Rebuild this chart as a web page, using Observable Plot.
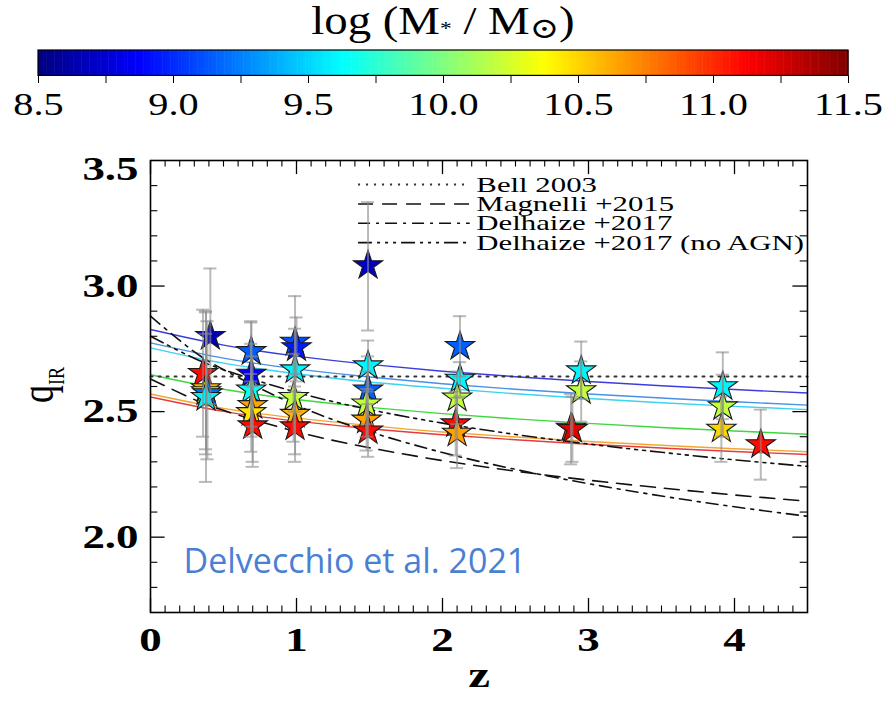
<!DOCTYPE html>
<html>
<head>
<meta charset="utf-8">
<script src="https://cdn.jsdelivr.net/npm/d3@7"></script>
<script src="https://cdn.jsdelivr.net/npm/@observablehq/plot@0.6"></script>
<style>
  body { margin: 0; background: #fff; }
  #fig { position: relative; width: 892px; height: 701px; overflow: hidden; background: #fff; }
  #title { position: absolute; left: 443px; top: 25px; transform: translate(-50%, -50%) scaleX(1.2); font-family: "Liberation Serif"; font-size: 39px; line-height: 48px; color: #000; white-space: nowrap; }
  #title sub { font-size: 0.5em; vertical-align: -0.1em; }
  #title sub.sun { font-size: 0.75em; vertical-align: -0.15em; font-family: "DejaVu Serif"; }
  #cbar { position: absolute; left: 0; top: 46px; }
  #main { position: absolute; left: 0; top: 130px; }
  #ylab { position: absolute; left: 40px; top: 385px; transform: translate(-50%, -50%) rotate(-90deg) scale(1, 1.3); font-family: "Liberation Serif"; font-size: 36px; white-space: nowrap; }
  #ylab sub { font-size: 0.5em; }
</style>
</head>
<body>
<div id="fig">
  <div id="title">log (M<sub>*</sub> / M<sub class="sun">⊙</sub>)</div>
  <div id="cbar"></div>
  <div id="main"></div>
  <div id="ylab">q<sub>IR</sub></div>
</div>
<script>
// ---------- colour bar ----------
const massDomain = [8.5, 8.875, 9.625, 10.375, 11.125, 11.5];
const massColors = ["#00007f", "#0000ff", "#00ffff", "#ffff00", "#ff0000", "#7f0000"];
const cbTicks = [8.5, 8.75, 9.0, 9.25, 9.5, 9.75, 10.0, 10.25, 10.5, 10.75, 11.0, 11.25, 11.5];
const cbLabels = [8.5, 9.0, 9.5, 10.0, 10.5, 11.0, 11.5];

// ---------- axes ----------
const xMajor = [0, 1, 2, 3, 4];
const xMinor = [0.1,0.2,0.3,0.4,0.5,0.6,0.7,0.8,0.9,1.1,1.2,1.3,1.4,1.5,1.6,1.7,1.8,1.9,2.1,2.2,2.3,2.4,2.5,2.6,2.7,2.8,2.9,3.1,3.2,3.3,3.4,3.5,3.6,3.7,3.8,3.9,4.1,4.2,4.3,4.4];
const yMajor = [2.0, 2.5, 3.0];
const yMinor = [1.8,1.9,2.1,2.2,2.3,2.4,2.6,2.7,2.8,2.9,3.1,3.2,3.3,3.4];
const yLabels = [2.0, 2.5, 3.0];
const yTopLabel = [3.5];

// ---------- model curves (Delvecchio+2021 mass-dependent) ----------
const zGrid = [0, 0.5, 1, 1.5, 2, 2.5, 3, 3.5, 4, 4.5];
const curveBlue      = [2.827, 2.765, 2.721, 2.688, 2.661, 2.639, 2.620, 2.603, 2.588, 2.574];
const curveLightBlue = [2.774, 2.713, 2.670, 2.638, 2.611, 2.589, 2.570, 2.554, 2.539, 2.526];
const curveCyan      = [2.754, 2.693, 2.651, 2.618, 2.593, 2.571, 2.552, 2.535, 2.521, 2.508];
const curveGreen     = [2.647, 2.589, 2.548, 2.517, 2.492, 2.471, 2.453, 2.437, 2.423, 2.410];
const curveOrange    = [2.570, 2.513, 2.474, 2.444, 2.419, 2.399, 2.381, 2.366, 2.352, 2.340];
const curveRed       = [2.558, 2.501, 2.462, 2.432, 2.408, 2.388, 2.370, 2.355, 2.341, 2.329];
const curveColors = ["#3c3cdc", "#4a90e4", "#3cd2f0", "#3cd83c", "#f2a634", "#e23c3c"];

// ---------- literature relations ----------
const zRef = [0, 0.25, 0.5, 1, 1.5, 2, 2.5, 3, 3.5, 4, 4.5];
const bell2003      = [2.64, 2.64, 2.64, 2.64, 2.64, 2.64, 2.64, 2.64, 2.64, 2.64, 2.64];
const magnelli2015  = [2.630, 2.561, 2.505, 2.420, 2.356, 2.305, 2.263, 2.227, 2.196, 2.168, 2.143];
const delhaize2017  = [2.880, 2.760, 2.667, 2.525, 2.420, 2.337, 2.270, 2.213, 2.164, 2.121, 2.083];
const delhaizeNoAGN = [2.800, 2.726, 2.667, 2.577, 2.508, 2.454, 2.409, 2.371, 2.338, 2.308, 2.282];
const refNames = ["Bell 2003", "Magnelli +2015", "Delhaize +2017", "Delhaize +2017 (no AGN)"];
const refDash = ["2,6", "15,9", "12,6,3,6", "14,5,3,5,3,5,3,5"];

// ---------- measurements ----------
const ptZ    = [0.41, 0.36, 0.38, 0.38, 0.39, 0.38,
                0.69, 0.69, 0.69, 0.70, 0.69, 0.70,
                0.99, 1.00, 0.99, 0.98, 0.99, 0.99,
                1.49, 1.49, 1.49, 1.48, 1.48, 1.49,
                2.12, 2.12, 2.10, 2.09, 2.10,
                2.95, 2.95, 2.88, 2.89,
                3.92, 3.92, 3.91,
                4.18];
const ptQ    = [2.800, 2.653, 2.592, 2.580, 2.572, 2.557,
                2.740, 2.650, 2.587, 2.525, 2.497, 2.444,
                2.777, 2.755, 2.667, 2.557, 2.490, 2.440,
                3.082, 2.683, 2.587, 2.531, 2.467, 2.424,
                2.760, 2.630, 2.555, 2.452, 2.415,
                2.663, 2.584, 2.435, 2.430,
                2.600, 2.520, 2.431,
                2.369];
const ptLo   = [2.53, 2.40, 2.33, 2.35, 2.31, 2.22,
                2.62, 2.44, 2.40, 2.30, 2.34, 2.28,
                2.60, 2.62, 2.50, 2.38, 2.33, 2.30,
                2.823, 2.58, 2.45, 2.40, 2.345, 2.32,
                2.64, 2.56, 2.45, 2.325, 2.275,
                2.55, 2.46, 2.29, 2.30,
                2.47, 2.40, 2.30,
                2.229];
const ptHi   = [3.07, 2.906, 2.895, 2.81, 2.86, 2.90,
                2.86, 2.855, 2.77, 2.72, 2.65, 2.60,
                2.96, 2.875, 2.83, 2.73, 2.65, 2.58,
                3.334, 2.783, 2.72, 2.66, 2.59, 2.53,
                2.88, 2.697, 2.66, 2.58, 2.555,
                2.779, 2.70, 2.57, 2.56,
                2.736, 2.647, 2.56,
                2.508];
const ptMass = [8.65, 11.1, 10.6, 10.35, 9.2, 9.6,
                9.15, 8.85, 9.65, 10.65, 10.45, 11.1,
                9.1, 8.95, 9.6, 10.2, 10.6, 11.1,
                8.7, 9.6, 9.15, 10.2, 10.65, 11.1,
                9.15, 9.6, 10.2, 11.1, 10.65,
                9.6, 10.2, 10.9, 11.2,
                9.6, 10.2, 10.5,
                11.1];

// the reference uses horizontally stretched Times glyphs: widen chosen text elements in place
function stretchTexts(svg, keep, sx) {
  svg.querySelectorAll("text").forEach(t => {
    if (!keep(t.textContent)) return;
    const tr = t.getAttribute("transform");
    if (tr) {
      t.setAttribute("transform", tr + ` scale(${sx},1)`);
    } else {
      const x = +t.getAttribute("x") || 0, y = +t.getAttribute("y") || 0;
      t.setAttribute("transform", `translate(${x},${y}) scale(${sx},1) translate(${-x},${-y})`);
    }
  });
}

try {
  const colorScale = {type: "linear", domain: massDomain, range: massColors, interpolate: "rgb"};

  // ---- colour bar ----
  const cbSteps = d3.range(300).map(i => 8.5 + i * 0.01);
  const cb = Plot.plot({
    width: 892, height: 84,
    marginLeft: 38, marginRight: 44, marginTop: 4, marginBottom: 0,
    x: {domain: [8.5, 11.5], axis: null},
    y: {domain: [-2.15, 1], axis: null},
    color: colorScale,
    style: {background: "transparent", overflow: "visible"},
    marks: [
      Plot.rect(cbSteps, {x1: d => d, x2: d => d + 0.012, y1: 0, y2: 1, fill: d => d + 0.005}),
      Plot.rect([0], {x1: 8.5, x2: 11.5, y1: 0, y2: 1, fill: "none", stroke: "#000", strokeWidth: 1.2}),
      Plot.ruleX(cbTicks, {x: d => d, y1: -0.3, y2: 0, stroke: "#000", strokeWidth: 1}),
      Plot.text(cbLabels, {x: d => d, y: -1.15, text: d => d.toFixed(1), fontSize: 31,
        fontFamily: "Liberation Serif", fill: "#000"})
    ]
  });
  stretchTexts(cb, () => true, 1.3);
  document.getElementById("cbar").appendChild(cb);

  // ---- main panel ----
  const marks = [];
  const massCurves = [curveBlue, curveLightBlue, curveCyan, curveGreen, curveOrange, curveRed];
  massCurves.forEach((vals, k) => {
    marks.push(Plot.line(zGrid.map((z, i) => ({z, q: vals[i]})),
      {x: "z", y: "q", stroke: curveColors[k], strokeWidth: 1.4, curve: "natural"}));
  });
  const refCurves = [bell2003, magnelli2015, delhaize2017, delhaizeNoAGN];
  refCurves.forEach((vals, k) => {
    marks.push(Plot.line(zRef.map((z, i) => ({z, q: vals[i]})),
      {x: "z", y: "q", stroke: k === 0 ? "#333" : "#111", strokeWidth: k === 0 ? 2 : 1.6,
       strokeDasharray: refDash[k], curve: "natural"}));
    // legend sample + label
    const ly = 3.404 - k * 0.077;
    marks.push(Plot.ruleY([ly], {y: d => d, x1: 1.425, x2: 2.19, stroke: k === 0 ? "#333" : "#111",
      strokeWidth: k === 0 ? 2 : 1.6, strokeDasharray: refDash[k]}));
    marks.push(Plot.text([refNames[k]], {x: 2.232, y: ly, text: d => d, textAnchor: "start",
      fontSize: 22, fontFamily: "Liberation Serif", fill: "#000"}));
  });

  // frame & ticks
  marks.push(Plot.frame({stroke: "#000", strokeWidth: 1.6}));
  marks.push(Plot.ruleY(yMajor, {y: d => d, x1: 0, x2: 0.1, stroke: "#000", strokeWidth: 1.3}));
  marks.push(Plot.ruleY(yMinor, {y: d => d, x1: 0, x2: 0.05, stroke: "#000", strokeWidth: 1.1}));
  marks.push(Plot.ruleY(yMajor, {y: d => d, x1: 4.4, x2: 4.5, stroke: "#000", strokeWidth: 1.3}));
  marks.push(Plot.ruleY(yMinor, {y: d => d, x1: 4.45, x2: 4.5, stroke: "#000", strokeWidth: 1.1}));
  marks.push(Plot.ruleX(xMajor, {x: d => d, y1: 1.7, y2: 1.756, stroke: "#000", strokeWidth: 1.3}));
  marks.push(Plot.ruleX(xMinor, {x: d => d, y1: 1.7, y2: 1.726, stroke: "#000", strokeWidth: 1.1}));
  marks.push(Plot.ruleX(xMajor, {x: d => d, y1: 3.444, y2: 3.5, stroke: "#000", strokeWidth: 1.3}));
  marks.push(Plot.ruleX(xMinor, {x: d => d, y1: 3.474, y2: 3.5, stroke: "#000", strokeWidth: 1.1}));

  // tick labels
  marks.push(Plot.text(yLabels, {y: d => d, frameAnchor: "left", dx: -12, textAnchor: "end",
    text: d => d.toFixed(1), fontSize: 33, fontWeight: "bold", fontFamily: "Liberation Serif", fill: "#000"}));
  marks.push(Plot.text(yTopLabel, {y: d => d, frameAnchor: "left", dx: -12, dy: 9, textAnchor: "end",
    text: d => d.toFixed(1), fontSize: 33, fontWeight: "bold", fontFamily: "Liberation Serif", fill: "#000"}));
  marks.push(Plot.text(xMajor, {x: d => d, frameAnchor: "bottom", dy: 38,
    text: d => String(d), fontSize: 33, fontWeight: "bold", fontFamily: "Liberation Serif", fill: "#000"}));
  marks.push(Plot.text(["z"], {frameAnchor: "bottom", dy: 74, text: d => d,
    fontSize: 36, fontWeight: "bold", fontFamily: "Liberation Serif", fill: "#000"}));

  // measurements
  const pts = ptZ.map((z, i) => ({z, q: ptQ[i], lo: ptLo[i], hi: ptHi[i], m: ptMass[i]}));
  marks.push(Plot.dot(pts, {x: "z", y: "q", symbol: "star", r: 9.2, fill: "m",
    stroke: "#1a1a1a", strokeWidth: 1.1}));
  marks.push(Plot.ruleX(pts, {x: "z", y1: "lo", y2: "hi", stroke: "#8c8c8c", strokeWidth: 2, strokeOpacity: 0.6}));
  marks.push(Plot.ruleY(pts, {y: "lo", x1: d => d.z - 0.045, x2: d => d.z + 0.045, stroke: "#8c8c8c", strokeWidth: 2, strokeOpacity: 0.6}));
  marks.push(Plot.ruleY(pts, {y: "hi", x1: d => d.z - 0.045, x2: d => d.z + 0.045, stroke: "#8c8c8c", strokeWidth: 2, strokeOpacity: 0.6}));

  // reference tag
  const tag = "Delvecchio et al. 2021";
  marks.push(Plot.text([tag], {frameAnchor: "bottom-left", dx: 33, dy: -40,
    textAnchor: "start", text: d => d, fontSize: 34, fontFamily: "Open Sans", fill: "#4a7fd4"}));

  const main = Plot.plot({
    width: 892, height: 571,
    marginLeft: 150, marginRight: 85, marginTop: 30, marginBottom: 89,
    x: {domain: [0, 4.5], axis: null},
    y: {domain: [1.7, 3.5], axis: null},
    color: colorScale,
    style: {background: "transparent", overflow: "visible"},
    marks
  });
  stretchTexts(main, s => !refNames.includes(s) && s !== tag, 1.36);
  stretchTexts(main, s => refNames.includes(s), 1.4);
  document.getElementById("main").appendChild(main);
} catch (e) {
  document.body.insertAdjacentHTML("beforeend", "<pre>" + e + "\n" + e.stack + "</pre>");
}
</script>
</body>
</html>
